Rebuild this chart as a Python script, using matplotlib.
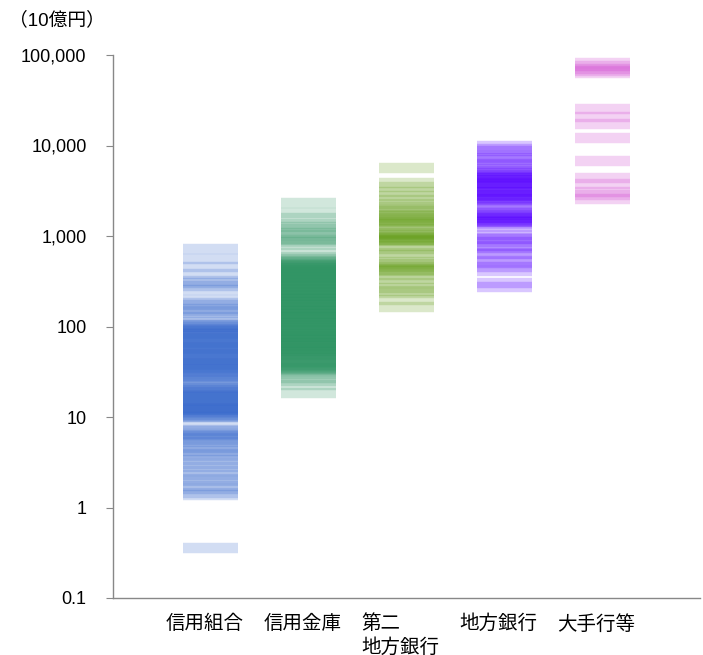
import matplotlib
matplotlib.use("Agg")
import matplotlib.pyplot as plt
from matplotlib.transforms import ScaledTranslation

plt.rcParams['font.family'] = ['Liberation Sans', 'Noto Sans CJK JP', 'DejaVu Sans']

# Deposits per institution (unit: 10億円)
categories = ["信用組合", "信用金庫", "第二\n地方銀行", "地方銀行", "大手行等"]

credit_unions = [
    710, 564, 460, 385,
    322, 299, 277, 256,
    194, 184, 171, 158, 150, 140,
    128,
    111, 105,
    103, 100, 98, 95, 92, 90, 87, 85, 82, 80, 78, 75, 73, 71, 69, 67, 65, 63,
    61, 60, 58, 56, 55, 53, 52, 50, 49, 47, 46, 45, 43, 42, 41, 40, 39, 37.5,
    36.5, 35.5, 34.5, 33.5, 32.5, 31.5, 30.5, 29.5, 28.5, 27.5,
    26, 24.7, 23.8, 22.9,
    21, 20.5, 20, 19.5, 19, 18.5, 18, 17.5, 17, 16.5, 16, 15.6, 15.2, 14.8,
    14.4, 14, 13.6, 13.3, 13, 12.7, 12.4, 12.1, 11.8, 11.5, 11.2, 10.9, 10.6,
    10.3, 10.1, 9.9,
    8.4,
    7.27, 6.92, 6.57, 6.25, 6.09, 5.79, 5.50, 5.23,
    4.84, 4.49, 4.26, 3.95, 3.75,
    3.39, 3.06, 2.77, 2.50, 2.3, 2.09, 1.94, 1.75, 1.62, 1.46, 1.36,
    0.36,
]

shinkin = [
    2345, 1775, 1561, 1374, 1273, 1180, 1093, 1013, 938, 892, 848, 805,
    657, 579, 550,
    523, 503, 484, 466, 448, 431, 415, 399, 384, 370, 356, 342, 329, 317, 305,
    293, 282, 272, 261, 251, 242, 233, 224, 215, 207, 199, 192, 185, 178, 171,
    165, 158, 152, 147, 141, 136, 131, 126, 121, 116, 112, 108, 104, 100, 96,
    92, 89, 85, 82, 79, 76, 73, 71, 68, 65, 63, 61, 58, 56, 54, 52, 50, 48,
    46, 45, 43, 41, 40, 38, 37, 35, 34, 33, 32,
    510, 490, 475, 457, 440, 423, 407, 391, 377, 363, 349, 335, 323, 311, 299,
    288, 277, 266, 256, 246, 237, 228, 219, 211, 203, 195, 188, 181, 174, 168,
    161, 155, 149, 144, 138, 133, 128, 123, 118, 114, 110, 106, 102, 98, 94,
    90, 87, 83, 80, 77, 74, 72, 69, 66, 64, 62, 59, 57, 55, 53, 51, 49, 47,
    44, 42, 39, 36, 34.5,
    29.5, 27.3, 24.7, 22.3, 18.6,
]

second_regional = [
    5700, 3900, 3520, 3025, 2732, 2530, 2286, 2118, 1960, 1866,
    1685, 1650, 1601, 1520, 1480, 1446, 1374, 1306, 1210,
    1066, 1040, 1013, 987, 960, 938, 905, 892, 870,
    785, 710, 657, 609,
    510, 495, 484, 460, 437, 425, 415,
    375, 339, 306, 263, 244, 232, 194, 166,
]

regional = [
    10000, 9040, 8585, 7753, 7368, 7000, 6170, 5861, 5570, 5293,
    4905, 4780, 4661, 4544, 4430, 4320, 4210, 4105, 3900, 3803, 3710, 3614,
    3524, 3350, 3260, 3183, 3102, 3025, 2870, 2802, 2732, 2663, 2596, 2530,
    2468, 2345,
    2118, 1960,
    1818, 1775, 1685, 1642, 1601, 1561, 1520, 1483, 1446, 1410, 1340, 1273,
    1013, 962, 915, 848, 785, 746, 657, 625, 536, 497, 449, 415,
    306, 270,
]

major = [
    82600, 74650, 69200, 65730, 62460,
    25010, 20910, 17500,
    12250,
    6825,
    4430, 3710, 3025, 2870, 2596,
]

series = [credit_unions, shinkin, second_regional, regional, major]
colors = ["#3366CC", "#2E9463", "#5E9A10", "#5500FF", "#CC33CC"]

ytick_values = [0.1, 1, 10, 100, 1000, 10000, 100000]
ytick_labels = ["0.1", "1", "10", "100", "1,000", "10,000", "100,000"]

W, H = 703, 655
fig = plt.figure(figsize=(W / 100, H / 100), dpi=100)
ax = fig.add_axes([113 / W, 1 - 598 / H, (700 - 113) / W, (598 - 55) / H])

half = 0.28
for i, (vals, col) in enumerate(zip(series, colors), start=1):
    ax.hlines(vals, i - half, i + half, colors=col, linewidth=7.5,
              alpha=0.22, capstyle='butt')

ax.set_yscale('log')
ax.set_ylim(0.1, 100000)
ax.set_xlim(0, 6)
ax.minorticks_off()
ax.set_yticks(ytick_values)
ax.set_yticklabels(ytick_labels)
ax.set_xticks(range(1, len(categories) + 1))
ax.set_xticklabels(categories, fontsize=14, ha='center', multialignment='left',
                   linespacing=1.3)

for s in ['top', 'right']:
    ax.spines[s].set_visible(False)
for s in ['left', 'bottom']:
    ax.spines[s].set_color('#888888')
    ax.spines[s].set_linewidth(1)

ax.tick_params(axis='y', length=5, color='#888888', direction='out',
               labelsize=13, pad=14)
ax.tick_params(axis='x', length=0, pad=12)

offset = ScaledTranslation(-6 / 100, 0, fig.dpi_scale_trans)
for lab in ax.get_xticklabels():
    lab.set_transform(lab.get_transform() + offset)

fig.text(9 / W, 1 - 20 / H, "（10億円）", fontsize=13.5, va='center', ha='left')

fig.savefig("out.png", dpi=100)
